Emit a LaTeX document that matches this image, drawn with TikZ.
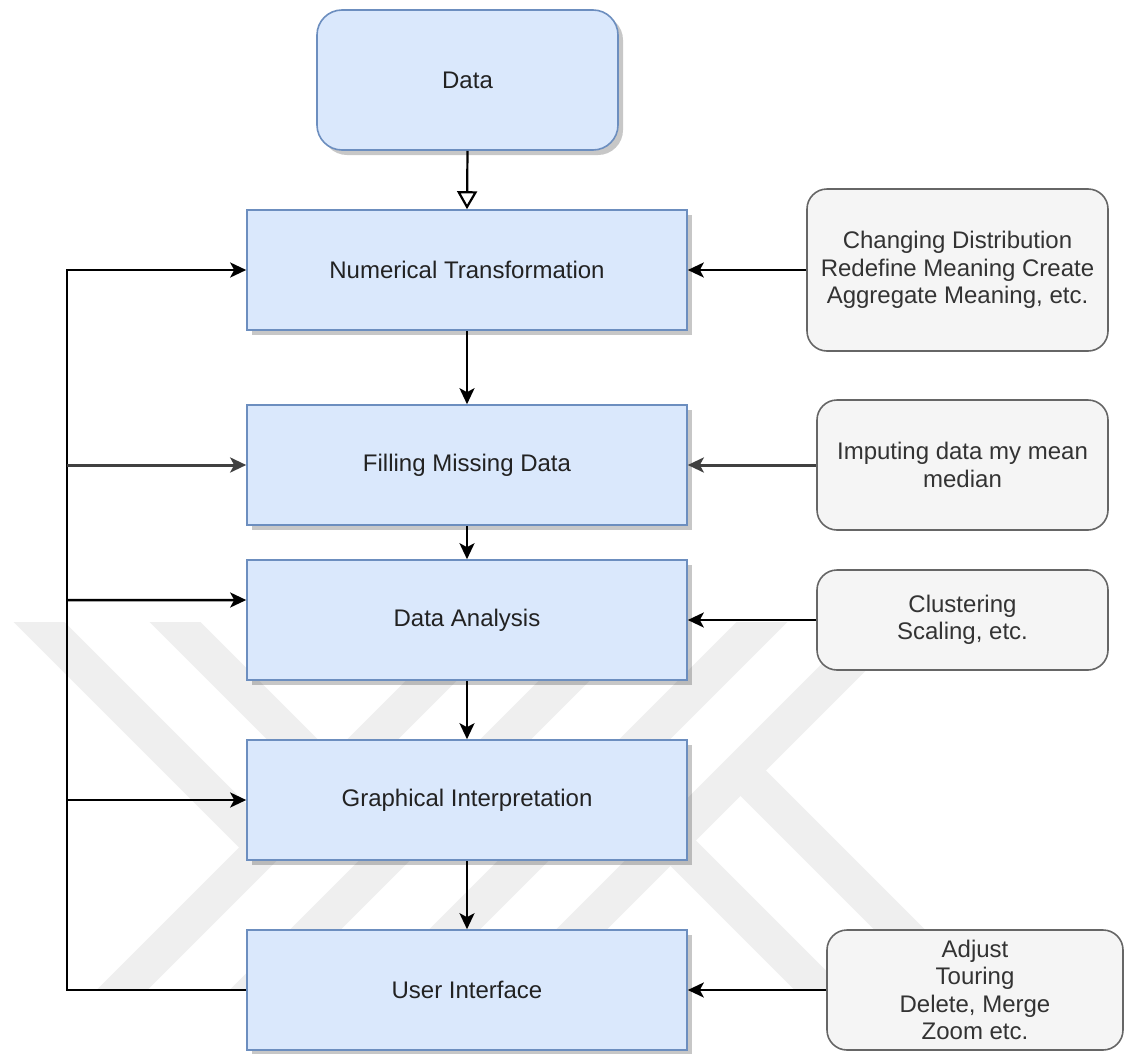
\documentclass[tikz,border=0pt]{standalone}
\usepackage{fontspec}
\setmainfont{Liberation Sans}
\usetikzlibrary{arrows.meta,shadows,calc}

\definecolor{boxfill}{HTML}{DAE8FC}
\definecolor{boxline}{HTML}{6C8EBF}
\definecolor{notefill}{HTML}{F5F5F5}
\definecolor{noteline}{HTML}{666666}
\definecolor{notetext}{HTML}{333333}
\definecolor{maintext}{HTML}{222222}
\definecolor{wmark}{HTML}{EFEFEF}

\tikzset{
  txt/.style={font=\fontsize{24bp}{27.5bp}\selectfont, align=center, inner sep=0pt},
  shade box/.style={drop shadow={shadow xshift=5bp, shadow yshift=-5bp, fill=black, opacity=0.22}},
  stagebox/.style={txt, draw=boxline, fill=boxfill, line width=1.6bp, text=maintext,
    minimum width=440bp, minimum height=120bp, shade box},
  sourcebox/.style={txt, draw=boxline, fill=boxfill, line width=1.6bp, text=maintext,
    rounded corners=25bp, minimum width=301bp, minimum height=140bp, shade box},
  notebox/.style={txt, draw=noteline, fill=notefill, line width=1.6bp, text=notetext,
    rounded corners=20bp},
  flow/.style={line width=2.5bp, draw=black, -{Stealth[length=16bp,width=15bp,inset=4bp]}},
  openflow/.style={line width=2.2bp, draw=black, -{Triangle[open,length=18bp,width=20bp]}},
  band/.style={line width=36bp, draw=wmark, line cap=butt},
}

\begin{document}
\begin{tikzpicture}[x=1bp, y=-1bp]
  \useasboundingbox (0,0) rectangle (1125,1054);
  \fill[white] (0,0) rectangle (1125,1054);

  % faint background logo: four rising bands with slanted arms
  \begin{scope}
    \clip (0,622) rectangle (1010,990);
    % rising bands, x+y constant
    \draw[band] (92,1020) -- (512,600);
    \draw[band] (225,1020) -- (645,600);
    \draw[band] (364,1020) -- (784,600);
    \draw[band] (491,1020) -- (911,600);
    % arms from the upper left into the first two bands
    \draw[band] (19,602) -- (265.5,848.5);
    \draw[band] (155,602) -- (399,846);
    % arms to the lower right out of the fourth band
    \draw[band] (740.5,770.5) -- (1000,1030);
    \draw[band] (670.5,840.5) -- (870,1040);
  \end{scope}

  % process stages
  \node[sourcebox] (data) at (467.5,80) {Data};
  \node[stagebox] (nt)  at (467,270) {Numerical Transformation};
  \node[stagebox] (fmd) at (467,465) {Filling Missing Data};
  \node[stagebox] (da)  at (467,620) {Data Analysis};
  \node[stagebox] (gi)  at (467,800) {Graphical Interpretation};
  \node[stagebox] (ui)  at (467,990) {User Interface};

  % notes on each stage
  \node[notebox, minimum width=301bp, minimum height=162bp] (n1) at (957.5,270)
    {Changing Distribution\\Redefine Meaning Create\\Aggregate Meaning, etc.};
  \node[notebox, minimum width=291bp, minimum height=130bp] (n2) at (962.5,465)
    {Imputing data my mean\\median};
  \node[notebox, minimum width=291bp, minimum height=100bp] (n3) at (962.5,620)
    {Clustering\\Scaling, etc.};
  \node[notebox, minimum width=296bp, minimum height=120bp] (n4) at (975,990)
    {Adjust\\Touring\\Delete, Merge\\Zoom etc.};

  % main sequence
  \draw[openflow] (data.south) -- (nt.north);
  \draw[flow] (nt.south) -- (fmd.north);
  \draw[flow] (fmd.south) -- (da.north);
  \draw[flow] (da.south) -- (gi.north);
  \draw[flow] (gi.south) -- (ui.north);

  % notes feeding the stages
  \draw[flow] (n1.west) -- (nt.east);
  \draw[flow, draw=black!75, line width=3bp] (n2.west) -- (fmd.east);
  \draw[flow] (n3.west) -- (da.east);
  \draw[flow] (n4.west) -- (ui.east);

  % feedback from the user interface
  \coordinate (bus) at (67,990);
  \draw[flow] (ui.west) -- (bus) |- (nt.west);
  \draw[flow, draw=black!75, line width=3bp] (bus |- fmd.west) -- (fmd.west);
  \draw[flow] (bus |- 0,600) -- ([yshift=20bp]da.west);
  \draw[flow] (bus |- gi.west) -- (gi.west);
\end{tikzpicture}
\end{document}
